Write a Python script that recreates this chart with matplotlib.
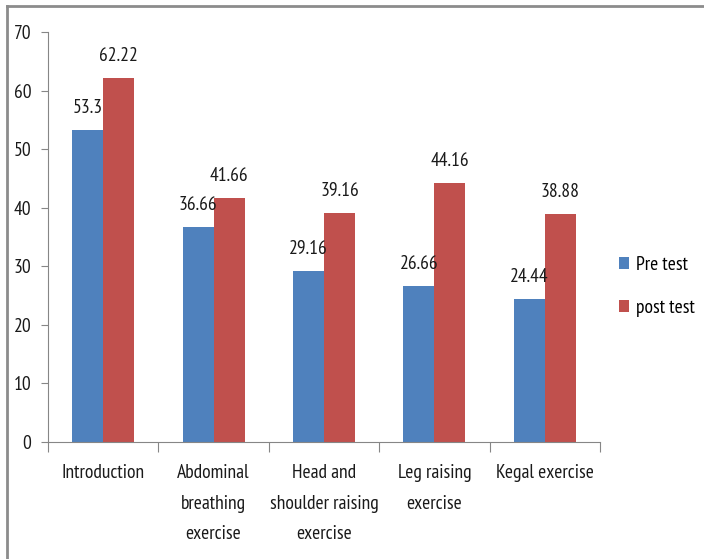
import numpy as np
import matplotlib
matplotlib.use('Agg')
import matplotlib.pyplot as plt
from matplotlib.lines import Line2D

plt.rcParams['font.family'] = ['PT Sans Narrow', 'DejaVu Sans']
plt.rcParams['font.weight'] = 'normal'

categories = ['Introduction', 'Abdominal\nbreathing\nexercise', 'Head and\nshoulder raising\nexercise',
              'Leg raising\nexercise', 'Kegal exercise']
pre_test = [53.3, 36.66, 29.16, 26.66, 24.44]
post_test = [62.22, 41.66, 39.16, 44.16, 38.88]
pre_labels = ['53.3', '36.66', '29.16', '26.66', '24.44']
post_labels = ['62.22', '41.66', '39.16', '44.16', '38.88']

blue = '#4F81BD'
red = '#C0504D'
txt = '#1a1a1a'
fs = 14

fig = plt.figure(figsize=(7.04, 5.59), dpi=100)
ax = fig.add_axes([48/704, 117/559, 552/704, 410/559])

x = np.arange(len(categories))
w = 0.28
b1 = ax.bar(x - w/2, pre_test, w, color=blue, label='Pre test')
b2 = ax.bar(x + w/2, post_test, w, color=red, label='post test')

for bars, labs in [(b1, pre_labels), (b2, post_labels)]:
    for rect, t in zip(bars, labs):
        ax.annotate(t, (rect.get_x() + rect.get_width()/2, rect.get_height()),
                    textcoords='offset pixels', xytext=(0, 22),
                    ha='center', va='center', fontsize=fs, color=txt)

ax.set_xlim(-0.5, len(categories) - 0.5)
ax.set_ylim(0, 70)
ax.set_yticks(range(0, 71, 10))
ax.set_xticks(np.arange(-0.5, len(categories), 1))
ax.set_xticklabels([])
ax.set_xticks(x, minor=True)
ax.set_xticklabels(categories, minor=True, fontsize=fs, color=txt, linespacing=1.88)
ax.tick_params(axis='x', which='minor', length=0, pad=16)
ax.tick_params(axis='x', which='major', direction='out', length=7, color='#868686')
ax.tick_params(axis='y', direction='out', length=5, color='#868686', labelsize=fs,
               labelcolor=txt, pad=7)
for s in ['top', 'right']:
    ax.spines[s].set_visible(False)
for s in ['left', 'bottom']:
    ax.spines[s].set_color('#868686')

ax.legend(loc='center left', bbox_to_anchor=(1.035, 0.38), frameon=False, fontsize=fs,
          handlelength=0.5, handleheight=0.55, handletextpad=0.35, labelspacing=1.3,
          borderpad=0, borderaxespad=0)

# outer chart border (left and top visible)
fig.add_artist(Line2D([6.5/704, 6.5/704], [0, 1 - 6/559], transform=fig.transFigure,
                      color='#8c8c8c', lw=2))
fig.add_artist(Line2D([6.5/704, 1], [1 - 6/559, 1 - 6/559], transform=fig.transFigure,
                      color='#8c8c8c', lw=2))

plt.savefig('out.png', dpi=100)
